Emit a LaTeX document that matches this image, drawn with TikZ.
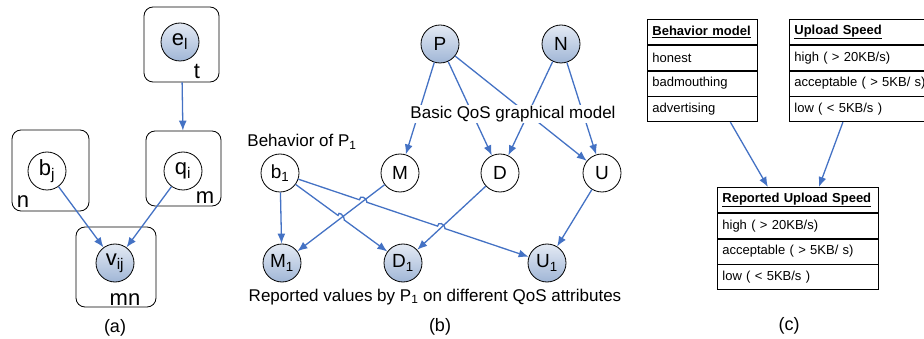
\documentclass[tikz,border=0pt]{standalone}
\usepackage{fontspec}
\setmainfont{Liberation Sans}
\usetikzlibrary{arrows.meta, positioning, intersections, calc}

\definecolor{linkblue}{RGB}{68,114,196}
\definecolor{obstop}{RGB}{228,234,244}
\definecolor{obsbot}{RGB}{160,182,214}

\begin{document}
\begin{tikzpicture}[
    x=1pt, y=-1pt,
    % Variables latentes y observadas
    latent/.style={circle, draw=black, line width=0.8pt, minimum size=38pt, inner sep=0pt, fill=white},
    observed/.style={latent, top color=obstop, bottom color=obsbot},
    % Placas del modelo
    plate/.style={draw, rounded corners=9pt, line width=0.8pt},
    % Aristas
    link/.style={draw=linkblue, line width=1.3pt, -{Latex[length=10pt, width=8pt]}},
    hop/.style={draw=linkblue, line width=1.3pt},
    % Celdas de las tablas
    cell/.style={draw, line width=0.8pt, anchor=north west, minimum height=25pt, inner xsep=5pt, align=left, font=\fontsize{13}{15}\selectfont}
]
    \useasboundingbox (0,0) rectangle (924,339);

    % ==========================================
    % (a): MODELO DE PLACAS
    % ==========================================
    \begin{scope}[font=\fontsize{22}{26}\selectfont]
        \node[plate, minimum width=75pt, minimum height=75pt] (pt) at (181.5,44.5) {};
        \node[plate, minimum width=77pt, minimum height=81pt] (pn) at (50.5,170.5) {};
        \node[plate, minimum width=75pt, minimum height=75pt] (pm) at (183.5,168.5) {};
        \node[plate, minimum width=80pt, minimum height=80pt] (pmn) at (116,267) {};

        \node[observed] (el) at (180,42) {e\textsubscript{l}};
        \node[latent] (bj) at (47,171) {b\textsubscript{j}};
        \node[latent] (qi) at (183,171) {q\textsubscript{i}};
        \node[observed] (vij) at (115,263) {v\textsubscript{ij}};

        % Etiquetas de las placas
        \node (lt) at (197,71) {t};
        \node (ln) at (23,202) {n};
        \node (lm) at (205,198) {m};
        \node (lmn) at (125,300) {mn};

        \draw[link] (pt) -- (pm);
        \draw[link] (bj) -- (vij);
        \draw[link] (qi) -- (vij);

        \node[font=\fontsize{18}{22}\selectfont] (capa) at (115,328) {(a)};
    \end{scope}

    % ==========================================
    % (b): MODELO GRAFICO QoS
    % ==========================================
    \begin{scope}[font=\fontsize{19}{23}\selectfont]
        \node[observed] (P) at (440,44) {P};
        \node[observed] (N) at (561,44) {N};
        \node[latent] (b1) at (280,173) {b\textsubscript{1}};
        \node[latent] (M) at (400,173) {M};
        \node[latent] (D) at (500,173) {D};
        \node[latent] (U) at (602,173) {U};
        \node[observed] (M1) at (282,263) {M\textsubscript{1}};
        \node[observed] (D1) at (403,263) {D\textsubscript{1}};
        \node[observed] (U1) at (547,263) {U\textsubscript{1}};

        % Modelo basico
        \draw[link] (P) -- (M);
        \draw[link] (P) -- (D);
        \draw[link] (P) -- (U);
        \draw[link] (N) -- (D);
        \draw[link] (N) -- (U);

        % Valores reportados (con saltos en los cruces)
        \path[name path=lnbu] (b1) -- (U1);
        \path[name path=lnbd] (b1) -- (D1);
        \path[name path=lnmm] (M) -- (M1);
        \path[name path=lndd] (D) -- (D1);
        \path[name intersections={of=lnbu and lnmm, by=hopa}];
        \path[name intersections={of=lnbu and lndd, by=hopb}];
        \path[name intersections={of=lnbd and lnmm, by=hopc}];

        \draw[link] (b1) -- (M1);
        \draw[link] (b1) -- (D1);
        \draw[link] (b1) -- (U1);
        \foreach \h/\s/\e in {hopa/b1/U1, hopb/b1/U1, hopc/b1/D1} {
            \fill[white] (\h) circle (3.5pt);
            \draw[hop] ($(\h)!4pt!(\s)$) .. controls +(0,-5) and +(0,-5) .. ($(\h)!4pt!(\e)$);
        }
        \draw[link] (M) -- (M1);
        \draw[link] (D) -- (D1);
        \draw[link] (U) -- (U1);

        \node[fill=white, inner sep=1pt, font=\fontsize{17}{20}\selectfont] (basic) at (513,114) {Basic QoS graphical model};
        \node[font=\fontsize{17}{20}\selectfont] (behav) at (302,142) {Behavior of P\textsubscript{1}};
        \node[font=\fontsize{17}{20}\selectfont] (repv) at (435,297) {Reported values by P\textsubscript{1} on different QoS attributes};

        \node[font=\fontsize{18}{22}\selectfont] (capb) at (440,327) {(b)};
    \end{scope}

    % ==========================================
    % (c): TABLAS DE ESTADOS
    % ==========================================
    \node[cell, text width=100pt] (bm0) at (647,19) {\underline{\textbf{Behavior model}}};
    \node[cell, text width=100pt, below=0pt of bm0] (bm1) {honest};
    \node[cell, text width=100pt, below=0pt of bm1] (bm2) {badmouthing};
    \node[cell, text width=100pt, below=0pt of bm2] (bm3) {advertising};

    \node[cell, text width=133pt] (up0) at (789,19) {\underline{\textbf{Upload Speed}}};
    \node[cell, text width=133pt, below=0pt of up0] (up1) {high ( > 20KB/s)};
    \node[cell, text width=133pt, below=0pt of up1] (up2) {acceptable ( > 5KB/ s)};
    \node[cell, text width=133pt, below=0pt of up2] (up3) {low ( < 5KB/s )};

    \node[cell, text width=151pt] (ru0) at (717,187) {\underline{\textbf{Reported Upload Speed}}};
    \node[cell, text width=151pt, below=0pt of ru0] (ru1) {high ( > 20KB/s)};
    \node[cell, text width=151pt, below=0pt of ru1] (ru2) {acceptable ( > 5KB/ s)};
    \node[cell, text width=151pt, below=0pt of ru2] (ru3) {low ( < 5KB/s )};

    \draw[link] ([xshift=28pt]bm3.south) -- ([xshift=-30pt]ru0.north);
    \draw[link] ([xshift=-18pt]up3.south) -- ([xshift=21pt]ru0.north);

    \node[font=\fontsize{18}{22}\selectfont] (capc) at (789,326) {(c)};

\end{tikzpicture}
\end{document}
